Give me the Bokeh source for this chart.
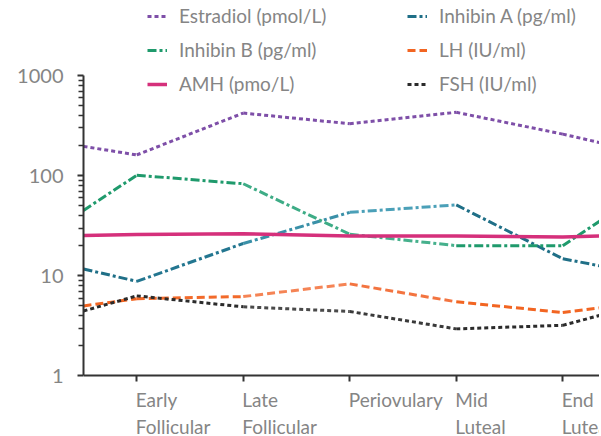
from bokeh.plotting import figure
from bokeh.models import (Range1d, FixedTicker, Legend, LegendItem, NumeralTickFormatter, Label)
from bokeh.embed import file_html
from bokeh.resources import INLINE

# positions: 0.5 and 5.5 are the cycle wrap-around points
phase_x = [0.5, 1, 2, 3, 4, 5, 5.5]
tick_pos = [1, 2, 3, 4, 5]
tick_labels = ["Early\nFollicular", "Late\nFollicular", "Periovulary", "Mid\nLuteal", "End\nLuteal"]

estradiol = [196, 161, 422, 330, 429, 260, 196]
inhibin_a = [11.7, 8.8, 21, 43, 51, 14.8, 11.7]
inhibin_b = [45, 101, 83, 26, 20, 20, 45]
lh = [5.0, 5.9, 6.2, 8.3, 5.5, 4.3, 5.0]
amh = [25.2, 25.8, 26.3, 25.0, 25.0, 24.4, 25.2]
fsh = [4.45, 6.3, 4.9, 4.4, 2.95, 3.2, 4.45]

# per-segment colours (the original strokes fade along the cycle)
col_estradiol = ["#7e4fa8"] * 6
col_inhibin_a = ["#1f6f87", "#237690", "#3a90a8", "#4ba0b8", "#1f6f87", "#1f6f87"]
col_inhibin_b = ["#1f9a6c", "#1f9a6c", "#3eac86", "#46b08c", "#1f9a6c", "#1f9a6c"]
col_lh = ["#f26522", "#f26a2a", "#f58455", "#f37440", "#f26522", "#f26522"]
col_fsh = ["#2b2b2b", "#2b2b2b", "#4a4a4a", "#3a3a3a", "#2b2b2b", "#2b2b2b"]

FONT = "Lato"
TXT = "#858585"

p = figure(width=599, height=434, y_axis_type="log",
           x_range=Range1d(0.5, 5.345), y_range=Range1d(0.26, 4890),
           output_backend="svg", toolbar_location=None,
           min_border_left=83, min_border_right=0, min_border_top=6, min_border_bottom=0)
p.outline_line_color = None
p.xgrid.visible = False
p.ygrid.visible = False

def series(ys, colors, width, dash):
    first = None
    for i in range(len(phase_x) - 1):
        r = p.line(phase_x[i:i + 2], ys[i:i + 2], line_color=colors[i], line_width=width,
                   line_dash=dash)
        if first is None:
            first = r
    return first

r_e = series(estradiol, col_estradiol, 3, "4 3")
r_ia = series(inhibin_a, col_inhibin_a, 3, "9 3 3 3")
r_ib = series(inhibin_b, col_inhibin_b, 3, "9 3 3 3")
r_lh = series(lh, col_lh, 3, "8 4")
r_amh = p.line(phase_x, amh, line_color="#d5307b", line_width=3.5)
r_fsh = series(fsh, col_fsh, 3, "4 3")

# axes
p.yaxis.ticker = FixedTicker(ticks=[1, 10, 100, 1000],
                             minor_ticks=[m * d for d in (1, 10, 100) for m in range(2, 10)])
p.yaxis.formatter = NumeralTickFormatter(format="0")
p.yaxis.bounds = (1, 1000)
p.xaxis.ticker = FixedTicker(ticks=tick_pos, minor_ticks=[])
p.xaxis.major_label_text_font_size = "0px"
p.xaxis.fixed_location = 1
for ax in (p.xaxis, p.yaxis):
    ax.axis_line_color = "#333333"
    ax.axis_line_width = 2
    ax.major_tick_line_color = "#333333"
    ax.minor_tick_line_color = "#333333"
    ax.major_tick_line_width = 2
    ax.minor_tick_line_width = 1.5
    ax.major_tick_in = 0
    ax.major_tick_out = 6
    ax.minor_tick_in = 0
    ax.minor_tick_out = 5
    ax.major_label_text_font = FONT
    ax.major_label_text_color = TXT
p.yaxis.major_label_text_font_size = "20px"
p.yaxis.major_label_standoff = 14

# category labels, left-aligned at each tick, hanging below the x axis
for t, txt in zip(tick_pos, tick_labels):
    p.add_layout(Label(x=t, y=47, y_units="screen", text=txt,
                       text_align="left", text_baseline="top", x_offset=-1,
                       text_font=FONT, text_font_size="19px", text_color=TXT,
                       text_line_height=1.2))

def make_legend(items, loc):
    lg = Legend(items=items, location=loc, orientation="vertical")
    lg.border_line_color = None
    lg.background_fill_alpha = 0
    lg.padding = 0
    lg.margin = 0
    lg.spacing = 11
    lg.glyph_width = 20
    lg.glyph_height = 20
    lg.label_height = 20
    lg.label_standoff = 12
    lg.label_text_font = FONT
    lg.label_text_font_size = "19px"
    lg.label_text_color = TXT
    return lg

leg1 = make_legend([LegendItem(label="Estradiol (pmol/L)", renderers=[r_e]),
                    LegendItem(label="Inhibin B (pg/ml)", renderers=[r_ib]),
                    LegendItem(label="AMH (pmo/L)", renderers=[r_amh])], (64, 339))
leg2 = make_legend([LegendItem(label="Inhibin A (pg/ml)", renderers=[r_ia]),
                    LegendItem(label="LH (IU/ml)", renderers=[r_lh]),
                    LegendItem(label="FSH (IU/ml)", renderers=[r_fsh])], (324, 339))
p.add_layout(leg1, "center")
p.add_layout(leg2, "center")

open("out.html", "w").write(file_html(p, INLINE))
